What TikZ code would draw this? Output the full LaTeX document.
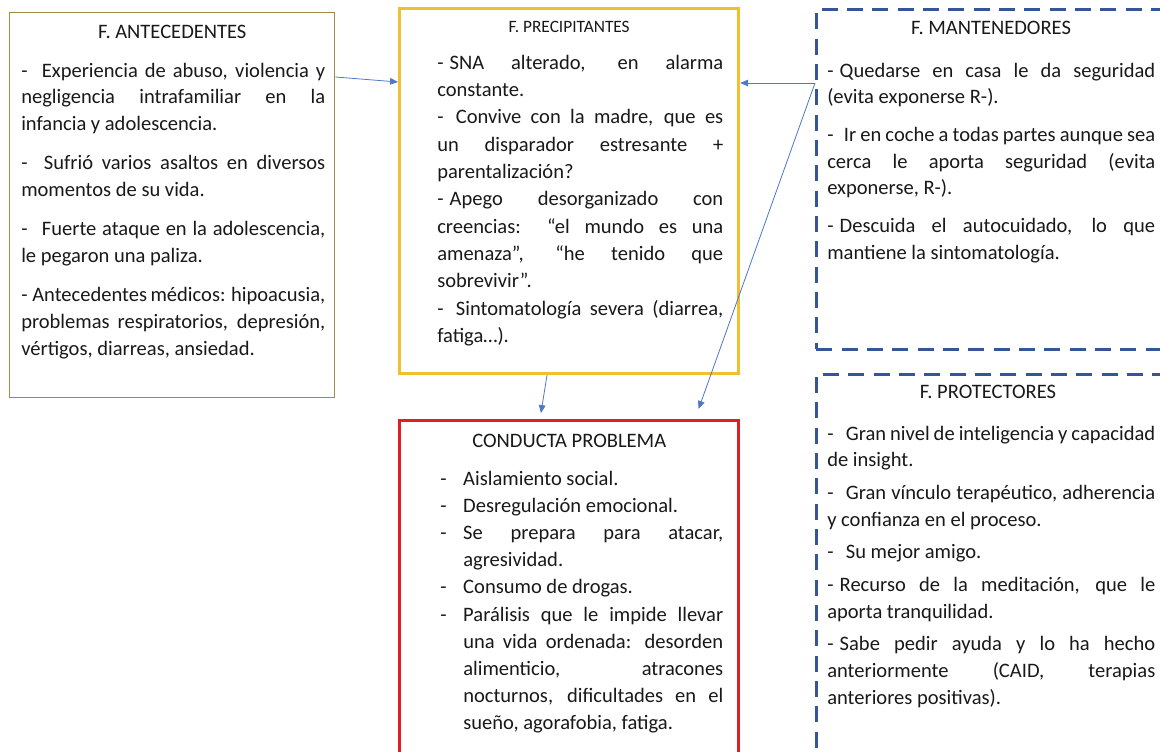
\documentclass[tikz,border=0pt]{standalone}
\usepackage{fontspec}
\setmainfont{Carlito}
\usetikzlibrary{arrows.meta, positioning, calc}
\definecolor{antecol}{RGB}{160,138,72}
\definecolor{preccol}{RGB}{240,192,48}
\definecolor{condcol}{RGB}{225,30,35}
\definecolor{dashcol}{RGB}{52,86,150}
\definecolor{flechacol}{RGB}{80,120,200}
% guion con sangria francesa
\newcommand{\guion}[1]{\hangindent=17.25pt\hangafter=1\noindent\makebox[17.25pt][l]{-}#1\par}

\begin{document}
\begin{tikzpicture}[x=0.75pt, y=-0.75pt,
    caja/.style={rectangle, anchor=north west, inner sep=0pt},
    cajadash/.style={caja, draw=dashcol, line width=2.2pt, dash pattern=on 12pt off 7pt},
    titulo/.style={anchor=base, inner sep=0pt, text=black!90, font=\fontsize{15.4}{18}\selectfont},
    cuerpo/.style={anchor=base west, inner sep=0pt, align=justify, text=black!90},
    flecha/.style={-{Triangle[length=6pt,width=5pt]}, draw=flechacol, line width=0.6pt}]

    \clip (0,0) rectangle (1160,751);
    \fill[white] (0,0) rectangle (1160,751);

    % cajas
    \node[caja, draw=antecol, line width=1.1pt, minimum width=243.75pt, minimum height=288.75pt] (ante) at (9,12) {};
    \node[caja, draw=preccol, line width=2.4pt, minimum width=254.25pt, minimum height=273.75pt] (prec) at (398,7) {};
    \node[caja, draw=condcol, line width=2.6pt, minimum width=254.25pt, minimum height=262.5pt] (cond) at (398,419) {};
    \node[cajadash, minimum width=270pt, minimum height=255pt] (mant) at (815,8) {};
    \node[cajadash, minimum width=270pt, minimum height=294pt] (prot) at (815,373) {};

    % F. antecedentes
    \node[titulo] (anteT) at (ante.north |- 0,38) {F. ANTECEDENTES};
    \node[cuerpo, text width=228pt, font=\fontsize{15.4}{20}\selectfont] (anteB) at (21,77) {%
        \parindent=0pt\parskip=9.5pt
        -\hspace{0.7em}Experiencia de abuso, violencia y\linebreak
        negligencia intrafamiliar en la\linebreak
        infancia y adolescencia.\par
        -\hspace{0.8em}Sufrió varios asaltos en diversos\linebreak
        momentos de su vida.\par
        -\hspace{0.7em}Fuerte ataque en la adolescencia,\linebreak
        le pegaron una paliza.\par
        -\hspace{0.23em}Antecedentes médicos: hipoacusia,\linebreak
        problemas respiratorios, depresión,\linebreak
        vértigos, diarreas, ansiedad.};

    % F. precipitantes
    \node[titulo, font=\fontsize{13}{16}\selectfont] (precT) at (prec.north |- 0,32) {F. PRECIPITANTES};
    \node[cuerpo, text width=214.5pt, font=\fontsize{15.4}{20.5}\selectfont] (precB) at (437,69) {%
        \parindent=0pt
        -\hspace{0.3em}SNA alterado, en alarma\linebreak
        constante.\par
        -\hspace{0.6em}Convive con la madre, que es\linebreak
        un disparador estresante +\linebreak
        parentalización?\par
        -\hspace{0.3em}Apego desorganizado con\linebreak
        creencias: “el mundo es una\linebreak
        amenaza”, “he tenido que\linebreak
        sobrevivir”.\par
        -\hspace{0.6em}Sintomatología severa (diarrea,\linebreak
        fatiga…).};

    % conducta problema
    \node[titulo] (condT) at (cond.north |- 0,447) {CONDUCTA PROBLEMA};
    \node[cuerpo, text width=212.25pt, font=\fontsize{15.4}{20.4}\selectfont] (condB) at (440,485) {%
        \parindent=0pt\guion{Aislamiento social.}%
        \guion{Desregulación emocional.}%
        \guion{Se prepara para atacar,\linebreak agresividad.}%
        \guion{Consumo de drogas.}%
        \guion{Parálisis que le impide llevar\linebreak
        una vida ordenada: desorden\linebreak
        alimenticio, atracones\linebreak
        nocturnos, dificultades en el\linebreak
        sueño, agorafobia, fatiga.}};

    % F. mantenedores
    \node[titulo] (mantT) at (991,34) {F. MANTENEDORES};
    \node[cuerpo, text width=246pt, font=\fontsize{15.4}{20}\selectfont] (mantB) at (827,77) {%
        \parindent=0pt\parskip=8.25pt
        -\hspace{0.3em}Quedarse en casa le da seguridad\linebreak
        (evita exponerse R-).\par
        -\hspace{0.5em}Ir en coche a todas partes aunque sea\linebreak
        cerca le aporta seguridad (evita\linebreak
        exponerse, R-).\par
        -\hspace{0.3em}Descuida el autocuidado, lo que\linebreak
        mantiene la sintomatología.};

    % F. protectores
    \node[titulo] (protT) at (988,398) {F. PROTECTORES};
    \node[cuerpo, text width=246pt, font=\fontsize{15.4}{20}\selectfont] (protB) at (827,440) {%
        \parindent=0pt\parskip=4.5pt
        -\hspace{0.6em}Gran nivel de inteligencia y capacidad\linebreak
        de insight.\par
        -\hspace{0.6em}Gran vínculo terapéutico, adherencia\linebreak
        y confianza en el proceso.\par
        -\hspace{0.6em}Su mejor amigo.\par
        -\hspace{0.3em}Recurso de la meditación, que le\linebreak
        aporta tranquilidad.\par
        -\hspace{0.3em}Sabe pedir ayuda y lo ha hecho\linebreak
        anteriormente (CAID, terapias\linebreak
        anteriores positivas).};

    % flechas
    \coordinate (mizq) at (mant.west |- 0,83);
    \draw[flecha] (ante.east |- 0,77) -- (prec.west |- 0,82);
    \draw[flecha] (mizq) -- (prec.east |- mizq);
    \draw[flecha, shorten >=4.5pt] (prec.south -| 547,0) -- (cond.north -| 540,0);
    \draw[flecha, shorten >=8pt] (mizq) -- (cond.north -| 695,0);
\end{tikzpicture}
\end{document}
